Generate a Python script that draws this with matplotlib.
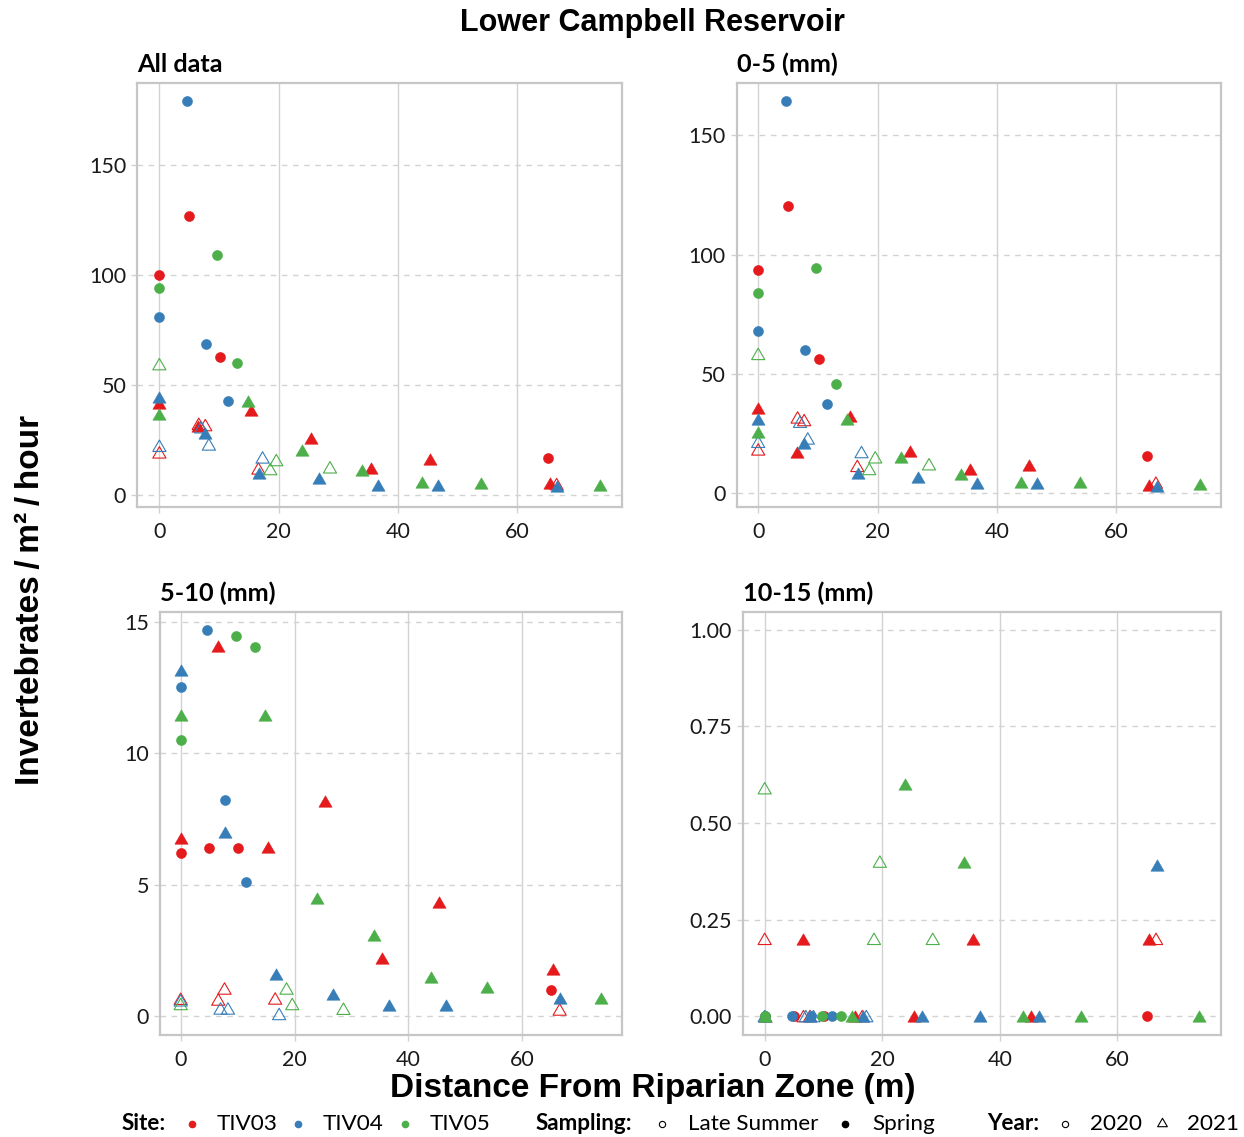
import matplotlib
matplotlib.use("Agg")
import matplotlib.pyplot as plt
from matplotlib.path import Path
import numpy as np

# ---------------- data ----------------
distance = [4.6, 5.0, 9.7, 0.0, 0.0, 0.0, 7.8, 10.1, 13.0, 11.5, 65.1,
            0.0, 0.0, 0.0, 0.0, 0.0, 0.0, 6.5, 6.6, 7.7, 7.0, 7.7, 8.3,
            14.9, 15.4, 17.3, 16.6, 16.7, 19.6, 18.6, 25.4, 23.9, 28.6,
            26.7, 33.9, 35.4, 36.6, 45.4, 44.0, 46.7, 53.9, 65.4, 66.6,
            66.7, 73.9]
site = ["TIV04", "TIV03", "TIV05", "TIV03", "TIV05", "TIV04", "TIV04", "TIV03",
        "TIV05", "TIV04", "TIV03",
        "TIV05", "TIV04", "TIV03", "TIV05", "TIV04", "TIV03", "TIV03", "TIV03",
        "TIV03", "TIV04", "TIV04", "TIV04", "TIV05", "TIV03", "TIV04", "TIV03",
        "TIV04", "TIV05", "TIV05", "TIV03", "TIV05", "TIV05", "TIV04", "TIV05",
        "TIV03", "TIV04", "TIV03", "TIV05", "TIV04", "TIV05", "TIV03", "TIV03",
        "TIV04", "TIV05"]
sampling = ["Spring"] * 11 + [
    "Late Summer", "Spring", "Spring", "Spring", "Late Summer", "Late Summer",
    "Spring", "Late Summer", "Late Summer", "Late Summer", "Spring", "Late Summer",
    "Spring", "Spring", "Late Summer", "Late Summer", "Spring", "Late Summer",
    "Late Summer", "Spring", "Spring", "Late Summer", "Spring", "Spring", "Spring",
    "Spring", "Spring", "Spring", "Spring", "Spring", "Spring", "Late Summer",
    "Spring", "Spring"]
year = [2020] * 11 + [2021] * 34

all_data = [179.0, 126.8, 108.9, 99.8, 94.1, 80.8, 68.5, 62.9, 59.8, 42.7, 17.0,
            59.5, 44.7, 42.0, 36.8, 22.4, 19.4, 31.5, 32.4, 31.8, 30.8, 28.3, 23.0,
            42.9, 38.6, 17.1, 12.1, 10.2, 15.9, 11.8, 25.8, 20.5, 12.6, 7.6, 11.4,
            12.4, 4.5, 16.2, 6.1, 4.5, 5.6, 5.6, 5.0, 4.1, 4.5]
size_0_5 = [164.2, 120.4, 94.3, 93.4, 83.8, 68.2, 60.1, 56.3, 45.8, 37.6, 15.8,
            58.4, 31.3, 35.6, 25.6, 21.6, 18.4, 17.5, 31.8, 30.7, 30.0, 21.0, 23.0,
            31.0, 32.4, 17.3, 11.5, 8.7, 15.1, 10.2, 17.7, 15.4, 12.2, 6.7, 8.0,
            10.2, 4.2, 11.9, 4.6, 4.2, 4.6, 3.5, 4.5, 3.1, 3.8]
size_5_10 = [14.68, 6.41, 14.48, 6.21, 10.50, 12.53, 8.22, 6.41, 14.06, 5.09, 0.98,
             0.46, 13.17, 6.79, 11.45, 0.60, 0.66, 14.10, 0.63, 1.05, 0.29, 7.02, 0.29,
             11.45, 6.42, 0.08, 0.67, 1.60, 0.46, 1.05, 8.19, 4.48, 0.28, 0.84, 3.08,
             2.20, 0.44, 4.34, 1.47, 0.44, 1.09, 1.81, 0.25, 0.67, 0.70]
size_10_15 = [0, 0, 0, 0, 0, 0, 0, 0, 0, 0, 0,
              0.59, 0, 0, 0, 0, 0.20, 0.20, 0, 0, 0, 0, 0,
              0, 0, 0, 0, 0, 0.40, 0.20, 0, 0.60, 0.20, 0, 0.40,
              0.20, 0, 0, 0, 0, 0, 0.20, 0.20, 0.39, 0]

panel_titles = ["All data", "0-5 (mm)", "5-10 (mm)", "10-15 (mm)"]
panel_values = [all_data, size_0_5, size_5_10, size_10_15]
site_names = ["TIV03", "TIV04", "TIV05"]
site_colors = {"TIV03": "#E41A1C", "TIV04": "#377EB8", "TIV05": "#4DAF4A"}
x_ticks = [0, 20, 40, 60]
y_ticks = [[0, 50, 100, 150], [0, 50, 100, 150], [0, 5, 10, 15],
           [0.0, 0.25, 0.50, 0.75, 1.00]]
y_ticklabels = [["0", "50", "100", "150"], ["0", "50", "100", "150"],
                ["0", "5", "10", "15"], ["0.00", "0.25", "0.50", "0.75", "1.00"]]
y_limits = [(-5.3, 187.4), (-5.6, 172.0), (-0.72, 15.39), (-0.049, 1.047)]
x_limits = [(-3.7, 77.5), (-3.6, 77.5), (-3.64, 77.5), (-3.74, 77.6)]

# ---------------- figure ----------------
W, H = 1244, 1137
DPI = 100
fig = plt.figure(figsize=(W / DPI, H / DPI), dpi=DPI)
fig.patch.set_facecolor("white")

TICK_FONT = "Lato"
HEAD_FONT = "Liberation Sans"
GRID = "#D2D2D2"
FRAME = "#C6C6C6"

# panel boxes in pixels: left, top, right, bottom
boxes = [(137.3, 82.7, 621.7, 506.7), (736.7, 82.7, 1221.0, 506.7),
         (160.0, 611.7, 621.7, 1035.0), (742.7, 611.7, 1220.7, 1035.0)]

tri = Path([(-1, -0.866), (1, -0.866), (0, 0.866), (-1, -0.866)],
           [Path.MOVETO, Path.LINETO, Path.LINETO, Path.CLOSEPOLY])

dist_arr = np.array(distance)
site_arr = np.array(site)
samp_arr = np.array(sampling)
year_arr = np.array(year)

for k, (l, t, r, b) in enumerate(boxes):
    ax = fig.add_axes([l / W, 1 - b / H, (r - l) / W, (b - t) / H])
    vals = np.array(panel_values[k], dtype=float)
    for s in site_names:
        col = site_colors[s]
        for yr in (2020, 2021):
            for sm in ("Spring", "Late Summer"):
                m = (site_arr == s) & (year_arr == yr) & (samp_arr == sm)
                if not m.any():
                    continue
                marker = "o" if yr == 2020 else tri
                size = 52 if yr == 2020 else 90
                if sm == "Spring":
                    ax.scatter(dist_arr[m], vals[m], s=size, marker=marker,
                               facecolor=col, edgecolor=col, linewidths=0.4,
                               zorder=3)
                else:
                    ax.scatter(dist_arr[m], vals[m], s=size, marker=marker,
                               facecolor="none", edgecolor=col, linewidths=0.8,
                               zorder=3)
    ax.set_xlim(*x_limits[k])
    ax.set_ylim(*y_limits[k])
    ax.set_xticks(x_ticks)
    ax.set_xticklabels([str(v) for v in x_ticks])
    ax.set_yticks(y_ticks[k])
    ax.set_yticklabels(y_ticklabels[k])
    for v in x_ticks:
        ax.axvline(v, color=GRID, lw=1.0, zorder=1)
    for v in y_ticks[k]:
        ax.axhline(v, color=GRID, lw=1.0, ls=(0, (4, 4)), zorder=1)
    for sp in ax.spines.values():
        sp.set_color(FRAME)
        sp.set_linewidth(1.6)
    ax.tick_params(axis="both", colors=GRID, length=4, width=1.0,
                   labelcolor="#1A1A1A", labelsize=15.5)
    ax.tick_params(axis="x", pad=7)
    ax.tick_params(axis="y", pad=4)
    for lab in ax.get_xticklabels() + ax.get_yticklabels():
        lab.set_fontfamily(TICK_FONT)
    ax.annotate(panel_titles[k], xy=(0, 1), xycoords="axes fraction",
                xytext=(0, 8), textcoords="offset points", ha="left",
                va="baseline", fontsize=18.2, fontweight="bold",
                family=TICK_FONT, color="black")

# ---------------- titles ----------------
fig.text(652 / W, 1 - 23 / H, "Lower Campbell Reservoir", ha="center",
         va="center", fontsize=22, fontweight="bold", family=HEAD_FONT)
fig.text(653 / W, 1 - 1089 / H, "Distance From Riparian Zone (m)", ha="center",
         va="center", fontsize=24, fontweight="bold", family=HEAD_FONT)
fig.text(31 / W, 1 - 600 / H, "Invertebrates\u2009/\u2009m²\u2009/\u2009hour",
         ha="center", va="center", rotation=90, fontsize=24, fontweight="bold",
         family=[HEAD_FONT, "DejaVu Sans"])

# ---------------- legend ----------------
lax = fig.add_axes([0, 0, 1, 1])
lax.set_xlim(0, W)
lax.set_ylim(H, 0)
lax.axis("off")
ly = 1124
fs = 16.2
lax.text(122, ly, "Site:", ha="left", va="center", fontsize=fs,
         fontweight="bold", family=TICK_FONT)
for xm, xt, s in [(192, 217, "TIV03"), (298, 323, "TIV04"), (405, 430, "TIV05")]:
    lax.plot([xm], [ly], marker="o", ms=4.5, color=site_colors[s], mec=site_colors[s])
    lax.text(xt, ly, s, ha="left", va="center", fontsize=fs, family=TICK_FONT)
lax.text(536, ly, "Sampling:", ha="left", va="center", fontsize=fs,
         fontweight="bold", family=TICK_FONT)
lax.plot([662], [ly], marker="o", ms=4.5, mfc="none", mec="black", mew=0.8)
lax.text(688, ly, "Late Summer", ha="left", va="center", fontsize=fs,
         family=TICK_FONT)
lax.plot([845], [ly], marker="o", ms=4.5, color="black")
lax.text(872, ly, "Spring", ha="left", va="center", fontsize=fs,
         family=TICK_FONT)
lax.text(987, ly, "Year:", ha="left", va="center", fontsize=fs,
         fontweight="bold", family=TICK_FONT)
lax.plot([1065], [ly], marker="o", ms=4.5, mfc="none", mec="black", mew=0.8)
lax.text(1090, ly, "2020", ha="left", va="center", fontsize=fs,
         family=TICK_FONT)
lax.plot([1162], [ly - 2], marker=tri, ms=7, mfc="none", mec="black", mew=0.8)
lax.text(1187, ly, "2021", ha="left", va="center", fontsize=fs,
         family=TICK_FONT)

fig.savefig("out.png", dpi=DPI, facecolor="white")
